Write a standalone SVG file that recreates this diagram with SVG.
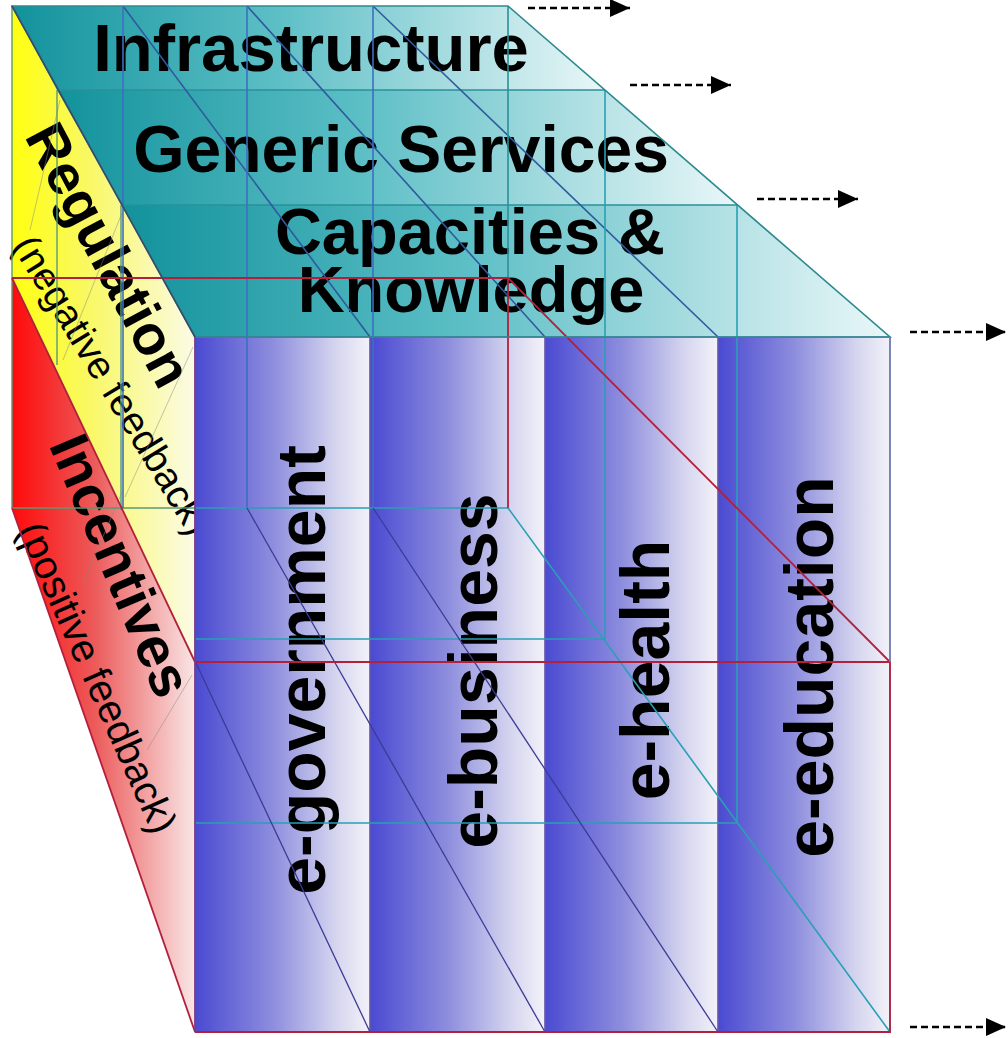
<svg xmlns="http://www.w3.org/2000/svg" width="1008" height="1038" viewBox="0 0 1008 1038">
<defs>
<linearGradient id="gTop" x1="0" y1="0" x2="1" y2="0">
<stop offset="0" stop-color="#12929c"/><stop offset="0.45" stop-color="#5dbfc6"/><stop offset="1" stop-color="#eaf7f8"/>
</linearGradient>
<linearGradient id="gYel" x1="0" y1="0" x2="1" y2="0">
<stop offset="0" stop-color="#ffff10"/><stop offset="0.4" stop-color="#f9f860"/><stop offset="1" stop-color="#fbfbe6"/>
</linearGradient>
<linearGradient id="gRed" x1="0" y1="0" x2="1" y2="0">
<stop offset="0" stop-color="#ff0a0a"/><stop offset="0.45" stop-color="#ec5a5a"/><stop offset="1" stop-color="#f9e6e6"/>
</linearGradient>
<linearGradient id="gCol" x1="0" y1="0" x2="1" y2="0">
<stop offset="0" stop-color="#4a4ad2"/><stop offset="0.45" stop-color="#8e8ede"/><stop offset="0.8" stop-color="#d4d4ef"/><stop offset="1" stop-color="#f3f2f9"/>
</linearGradient>
<marker id="arr" markerUnits="userSpaceOnUse" markerWidth="22" markerHeight="20" refX="20" refY="9" orient="auto">
<path d="M0,0 L20,9 L0,18 z" fill="#000"/>
</marker>
</defs>
<style>
.big{font-family:"Liberation Sans",Arial,sans-serif;font-weight:bold;fill:#000}
.sub{font-family:"Liberation Sans",Arial,sans-serif;font-weight:normal;fill:#000}
.top{fill:url(#gTop)}
.col{fill:url(#gCol);stroke:#6b5aa8;stroke-width:1.2}
.ln{fill:none;stroke-width:1.6}
.teal{stroke:#2a9098}
.navy{stroke:#2f5a9e}
.blue{stroke:#3b6fc4}
.cyan{stroke:#2a9fb5}
.red{stroke:#b3203c;stroke-width:1.8}
.dk{stroke:#3b3b95;stroke-width:1.3}
.faint{stroke:#8a8a8a;stroke-width:1;opacity:0.5}
.grn{stroke:#5a9a70;stroke-width:1.4}
.arrow{fill:none;stroke:#000;stroke-width:2.6;stroke-dasharray:7 4;marker-end:url(#arr)}
</style>
<rect width="1008" height="1038" fill="#ffffff"/>

<g id="regulation">
<polygon points="12,6 195,337 195,662 12,278" fill="url(#gYel)"/>
<text class="big" font-size="56" text-anchor="middle" transform="translate(92,264) rotate(62)">Regulation</text>
<text class="sub" font-size="39" text-anchor="middle" transform="translate(101,392) rotate(58.5)">(negative feedback)</text>
</g>

<g id="incentives">
<polygon points="12,278 195,662 195,1032 12,508" fill="url(#gRed)"/>
<text class="big" font-size="57" text-anchor="middle" transform="translate(103,573) rotate(67)">Incentives</text>
<text class="sub" font-size="40" text-anchor="middle" transform="translate(85,683) rotate(66)">(positive feedback)</text>
</g>

<g id="infrastructure">
<polygon class="top" points="12,6 508,6 605,90 57,90"/>
<text class="big" font-size="67" text-anchor="middle" x="311" y="71">Infrastructure</text>
</g>

<g id="generic-services">
<polygon class="top" points="57,90 605,90 738,205 122,205"/>
<text class="big" font-size="66" text-anchor="middle" x="401" y="172">Generic Services</text>
</g>

<g id="capacities-knowledge">
<polygon class="top" points="122,205 738,205 890,337 195,337"/>
<text class="big" font-size="65" text-anchor="middle" x="470" y="254">Capacities &amp;</text>
<text class="big" font-size="65" text-anchor="middle" x="471" y="312">Knowledge</text>
</g>

<g id="e-government">
<rect class="col" x="195" y="337" width="175" height="695"/>
<text class="big" font-size="68" text-anchor="middle" transform="translate(325,670) rotate(-90)">e-government</text>
</g>

<g id="e-business">
<rect class="col" x="370" y="337" width="175" height="695"/>
<text class="big" font-size="68" text-anchor="middle" transform="translate(497,671) rotate(-90)">e-business</text>
</g>

<g id="e-health">
<rect class="col" x="545" y="337" width="173" height="695"/>
<text class="big" font-size="68" text-anchor="middle" transform="translate(669,670) rotate(-90)">e-health</text>
</g>

<g id="e-education">
<rect class="col" x="718" y="337" width="172" height="695"/>
<text class="big" font-size="68" text-anchor="middle" transform="translate(833,667) rotate(-90)">e-education</text>
</g>

<g id="connectors">
<line class="ln faint" x1="30" y1="230" x2="60" y2="100"/>
<line class="ln faint" x1="63" y1="360" x2="122" y2="213"/>
<line class="ln faint" x1="125" y1="497" x2="193" y2="347"/>
<line class="ln faint" x1="83" y1="583" x2="123" y2="490"/>
<line class="ln faint" x1="147" y1="750" x2="192" y2="675"/>
<line class="ln grn" x1="57" y1="90" x2="57" y2="365"/>
<line class="ln grn" x1="121" y1="205" x2="121" y2="510"/>
<line class="ln grn" x1="12" y1="6" x2="12" y2="508"/>
<line class="ln grn" x1="12" y1="508" x2="195" y2="508"/>
<line class="ln teal" x1="57" y1="90" x2="605" y2="90"/>
<line class="ln teal" x1="122" y1="205" x2="738" y2="205"/>
<line class="ln navy" x1="123" y1="6" x2="370" y2="337"/>
<line class="ln navy" x1="247" y1="6" x2="545" y2="337"/>
<line class="ln navy" x1="373" y1="6" x2="718" y2="337"/>
<line class="ln blue" x1="123" y1="6" x2="123" y2="508"/>
<line class="ln blue" x1="247" y1="6" x2="247" y2="508"/>
<line class="ln blue" x1="373" y1="6" x2="373" y2="508"/>
<line class="ln teal" x1="508" y1="6" x2="508" y2="278"/>
<line class="ln cyan" x1="195" y1="508" x2="508" y2="508"/>
<line class="ln cyan" x1="605" y1="90" x2="605" y2="639"/>
<line class="ln cyan" x1="195" y1="639" x2="605" y2="639"/>
<line class="ln cyan" x1="737" y1="205" x2="737" y2="823"/>
<line class="ln cyan" x1="195" y1="823" x2="737" y2="823"/>
<line class="ln dk" x1="195" y1="661" x2="370" y2="1032"/>
<line class="ln dk" x1="247" y1="508" x2="545" y2="1032"/>
<line class="ln dk" x1="373" y1="508" x2="718" y2="1032"/>
<line class="ln cyan" x1="508" y1="508" x2="890" y2="1032"/>
<line class="ln red" x1="12" y1="278" x2="508" y2="278"/>
<line class="ln red" x1="508" y1="278" x2="508" y2="508"/>
<line class="ln red" x1="508" y1="278" x2="890" y2="662"/>
<line class="ln red" x1="12" y1="278" x2="195" y2="662"/>
<line class="ln red" x1="12" y1="508" x2="195" y2="1032"/>
<polyline class="ln red" points="195,662 890,662 890,1032 195,1032"/>
<polygon class="ln" points="12,6 508,6 890,337 195,337" stroke="#2d8b8f" stroke-width="2"/>
<line class="ln" x1="12" y1="6" x2="195" y2="337" stroke="#3a4a6a" stroke-width="2"/>
<line class="ln" x1="195" y1="337" x2="195" y2="1032" stroke="#7a3a80" stroke-width="2"/>
<line class="ln" x1="890" y1="337" x2="890" y2="662" stroke="#7080b0" stroke-width="1.8"/>
<line class="arrow" x1="528" y1="8" x2="630" y2="8"/>
<line class="arrow" x1="630" y1="85" x2="731" y2="85"/>
<line class="arrow" x1="757" y1="199" x2="858" y2="199"/>
<line class="arrow" x1="910" y1="332" x2="1006" y2="332"/>
<line class="arrow" x1="910" y1="1027" x2="1006" y2="1027"/>
</g>
</svg>
